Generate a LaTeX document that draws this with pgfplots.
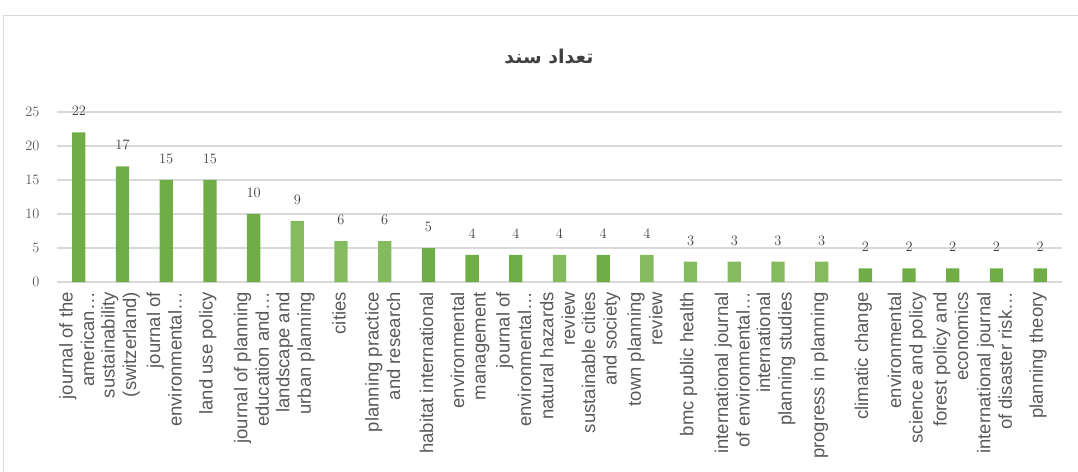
\documentclass[border=0pt]{standalone}
\usepackage{pgfplots}
\pgfplotsset{compat=1.18}
\usepackage{fontspec}
\setmainfont{Liberation Serif}
\newfontfamily\labelfont{Liberation Sans}
\newfontfamily\arabicfont[Script=Arabic]{DejaVu Sans}
\TeXXeTstate=1
\definecolor{gridgray}{HTML}{D9D9D9}
\definecolor{txtgray}{HTML}{595959}
\definecolor{dgreen}{HTML}{70AD47}
\definecolor{lgreen}{HTML}{85BB5F}
\begin{document}
\begin{tikzpicture}
\useasboundingbox (0pt,0pt) rectangle (1078pt,471pt);
\draw[gridgray, line width=1.2pt] (3.5pt,-20pt) -- (3.5pt,455.5pt) -- (1100pt,455.5pt);
\node[font=\arabicfont\bfseries\fontsize{19}{23}\selectfont, text=black!75] at (549pt,414pt) {\beginR تعداد سند\endR};
\begin{axis}[
  at={(57pt,189pt)}, anchor=south west,
  scale only axis, width=1005pt, height=170pt,
  xmin=-0.5, xmax=22.5, ymin=0, ymax=25,
  ytick={0,5,...,25},
  ymajorgrids, grid style={gridgray, line width=1.2pt},
  axis line style={draw=none},
  major tick length=0pt,
  xtick={0,...,22},
  xticklabels={{journal of the\\american…},{sustainability\\(switzerland)},{journal of\\environmental…},{land use policy},{journal of planning\\education and…},{landscape and\\urban planning},{cities},{planning practice\\and research},{habitat international},{environmental\\management},{journal of\\environmental…},{natural hazards\\review},{sustainable cities\\and society},{town planning\\review},{bmc public health},{international journal\\of environmental…},{international\\planning studies},{progress in planning},{climatic change},{environmental\\science and policy},{forest policy and\\economics},{international journal\\of disaster risk…},{planning theory}},
  xticklabel style={rotate=90, anchor=east, align=right, font=\labelfont\fontsize{18.5}{21.5}\selectfont, text=txtgray, xshift=-9pt, yshift=2pt, inner sep=1pt},
  yticklabel style={font=\fontsize{14}{16}\selectfont, text=txtgray, xshift=-14pt},
  ybar, bar width=13.3pt, bar shift=0pt,
  nodes near coords,
  every node near coord/.append style={font=\fontsize{13.5}{16}\selectfont, text=black!75, yshift=13pt},
  clip=false,
]
\addplot[fill=dgreen, draw=none] coordinates {(0,22)(1,17)(2,15)(3,15)(4,10)(8,5)(9,4)(10,4)(12,4)(18,2)(19,2)(20,2)(21,2)(22,2)};
\addplot[fill=lgreen, draw=none] coordinates {(5,9)(6,6)(7,6)(11,4)(13,4)(14,3)(15,3)(16,3)(17,3)};
\end{axis}
\end{tikzpicture}
\end{document}
